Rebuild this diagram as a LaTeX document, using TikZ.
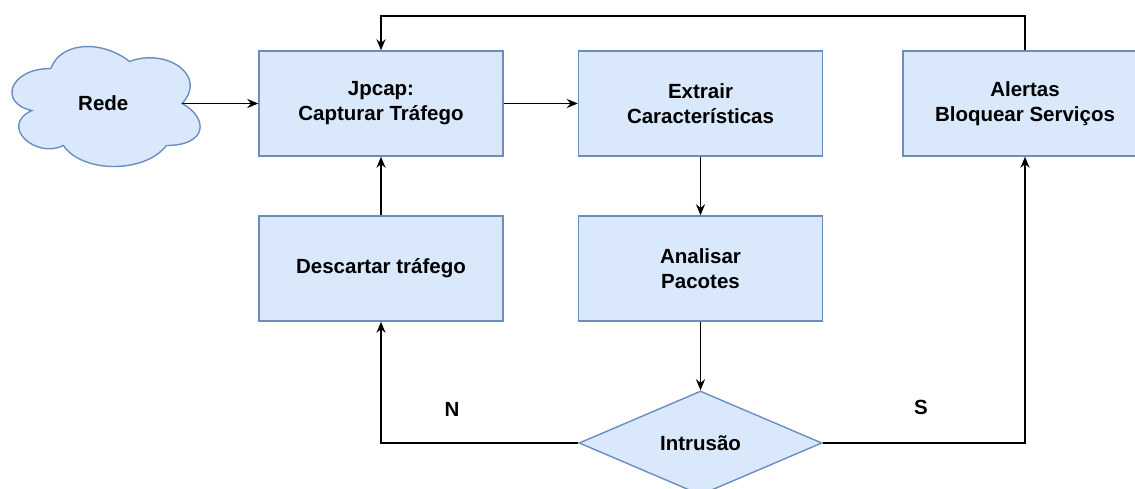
\documentclass[tikz,border=0pt]{standalone}
\usepackage{fontspec}
\setmainfont{Liberation Sans}
\usetikzlibrary{shapes.geometric,arrows.meta}
\definecolor{boxfill}{HTML}{DAE8FC}
\definecolor{boxline}{HTML}{6C8EBF}
\begin{document}
\begin{tikzpicture}[x=1pt,y=-1pt,
  txt/.style={font=\bfseries\fontsize{20.5}{25}\selectfont},
  box/.style={txt, draw=boxline, fill=boxfill, line width=1.4pt,
    minimum width=244pt, minimum height=105pt, inner sep=0pt, align=center},
  decision/.style={txt, diamond, draw=boxline, fill=boxfill, line width=1.4pt,
    minimum width=243pt, minimum height=104pt, inner sep=0pt, aspect=2.34},
  link/.style={line width=1.7pt, -{Stealth[length=11pt,width=9pt]}}]
\useasboundingbox (0,0) rectangle (1135,488);
\clip (0,0) rectangle (1135,488);

% network cloud
\begin{scope}[shift={(-1.7,33.5)}, xscale=210, yscale=140]
  \draw[draw=boxline, fill=boxfill, line width=1.4pt]
    (0.25,0.25) .. controls (0.05,0.25) and (0,0.5) .. (0.16,0.55)
    .. controls (0,0.66) and (0.18,0.9) .. (0.31,0.8)
    .. controls (0.4,1) and (0.7,1) .. (0.8,0.8)
    .. controls (1,0.8) and (1,0.6) .. (0.875,0.5)
    .. controls (1,0.3) and (0.8,0.1) .. (0.625,0.2)
    .. controls (0.5,0.05) and (0.3,0.05) .. (0.25,0.25) -- cycle;
  \coordinate (rede-e) at (0.875,0.5);
  \node[txt] (rede) at (0.5,0.5) {Rede};
\end{scope}

% process boxes
\node[box] (capturar)  at (381,103.5) {Jpcap:\\Capturar Tráfego};
\node[box] (extrair)   at (700.5,103.5) {Extrair\\Características};
\node[box] (alertas)   at (1025,103.5) {Alertas\\Bloquear Serviços};
\node[box] (descartar) at (381,268.5) {Descartar tráfego};
\node[box] (analisar)  at (700.5,268.5) {Analisar\\Pacotes};
\node[decision] (intrusao) at (700.5,443) {Intrusão};

% branch labels
\node[txt] (lblN) at (452,409) {N};
\node[txt] (lblS) at (921,407) {S};

% connectors
\coordinate (loop) at (381,16);
\draw[link] (rede-e) -- (rede-e -| capturar.west);
\draw[link] (capturar.east) -- (extrair.west);
\draw[link] (extrair.south) -- (analisar.north);
\draw[link] (analisar.south) -- (intrusao.north);
\draw[link] (intrusao.west) -| (descartar.south);
\draw[link] (intrusao.east) -| (alertas.south);
\draw[link] (descartar.north) -- (capturar.south);
\draw[link] (alertas.north) |- (loop) -- (capturar.north);
\end{tikzpicture}
\end{document}
